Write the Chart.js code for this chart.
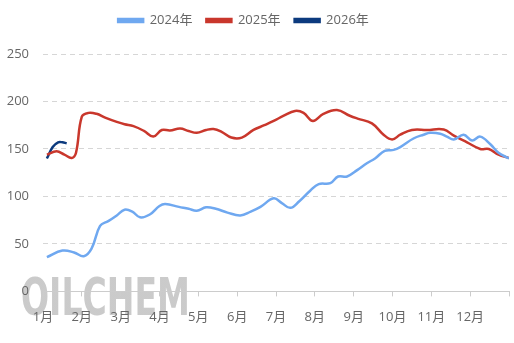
<!DOCTYPE html>
<html>
<head>
<meta charset="utf-8">
<script src="https://cdn.jsdelivr.net/npm/chart.js@4.4.1/dist/chart.umd.min.js"></script>
<style>
  html, body { margin: 0; padding: 0; background: #fff; }
  #wrap { width: 514px; height: 343px; }
</style>
</head>
<body>
<div id="wrap"><canvas id="myChart"></canvas></div>
<script>
// x values are month positions (0 = start of Jan, 12 = end of Dec)
const monthLabels = ['1月', '2月', '3月', '4月', '5月', '6月', '7月', '8月', '9月', '10月', '11月', '12月'];

const x2024 = [0.1, 0.5, 0.8, 1.05, 1.25, 1.47, 1.68, 1.9, 2.1, 2.3, 2.5, 2.75, 3.0, 3.15, 3.5, 3.75, 3.96, 4.2, 4.45, 4.75, 5.08, 5.35, 5.6, 5.94, 6.15, 6.37, 6.6, 6.88, 7.1, 7.4, 7.6, 7.83, 8.1, 8.34, 8.55, 8.8, 9.03, 9.2, 9.54, 9.8, 9.97, 10.23, 10.4, 10.58, 10.83, 11.05, 11.26, 11.52, 11.73, 12.0];
const y2024 = [36, 43, 41, 37, 45, 69, 74, 80, 86, 84, 78, 81, 90, 92, 89, 87, 85, 88.5, 87, 83, 80, 84, 89, 98, 93, 88, 95, 106, 113, 114, 121, 121, 128, 135, 140, 148, 149, 152, 161, 165, 167, 166, 163, 160, 165, 159, 163, 155, 146, 140];

const x2025 = [0.1, 0.35, 0.55, 0.74, 0.85, 1.0, 1.17, 1.38, 1.6, 1.9, 2.1, 2.33, 2.6, 2.84, 3.06, 3.27, 3.53, 3.75, 3.96, 4.2, 4.39, 4.6, 4.85, 5.12, 5.42, 5.7, 5.94, 6.2, 6.49, 6.71, 6.95, 7.22, 7.57, 7.9, 8.1, 8.47, 8.77, 8.99, 9.2, 9.5, 9.89, 10.32, 10.58, 10.92, 11.26, 11.48, 11.73, 12.0];
const y2025 = [144, 147.5, 144, 140.5, 146, 184, 188, 187, 183, 178.5, 176, 174, 169, 163, 170, 169.5, 171.5, 169, 167, 170, 171, 168, 162, 162, 170, 175, 179.5, 185, 190, 188, 179.5, 187, 191, 185, 182, 177, 165, 160, 165, 170, 170, 170.5, 164, 157, 150, 150, 144, 140.5];

const x2026 = [0.1, 0.25, 0.39, 0.5, 0.61];
const y2026 = [140, 152, 157, 157, 156];

function toPoints(xs, ys) {
    return xs.map((x, i) => ({ x: x, y: ys[i] }));
}

const watermark = {
    id: 'watermark',
    afterInit(chart) {
        // more room under the legend, and the legend sits a bit left of centre
        const legend = chart.legend;
        const fit = legend.fit;
        legend.fit = function () {
            fit.call(this);
            this.height += 17;
        };
        const draw = legend.draw;
        legend.draw = function () {
            this.ctx.save();
            this.ctx.translate(-11, 0);
            draw.call(this);
            this.ctx.restore();
        };
    },
    beforeDraw(chart) {
        const ctx = chart.ctx;
        ctx.save();
        const grad = ctx.createLinearGradient(0, 277, 0, 318);
        grad.addColorStop(0, 'rgba(185,185,185,0.75)');
        grad.addColorStop(1, 'rgba(255,255,255,0)');
        ctx.fillStyle = grad;
        ctx.font = 'bold 51px "DejaVu Sans", sans-serif';
        ctx.textBaseline = 'alphabetic';
        ctx.translate(21, 315);
        const w = ctx.measureText('OILCHEM').width;
        ctx.scale(169 / w, 1);
        ctx.fillText('OILCHEM', 0, 0);
        ctx.restore();
    }
};

const chart = document.getElementById('myChart').getContext('2d');

const myChart = new Chart(chart, {
    type: 'line',
    data: {
        datasets: [{
            label: '2024年',
            data: toPoints(x2024, y2024),
            borderColor: '#6fa8f0',
            backgroundColor: '#6fa8f0',
            borderWidth: 2.5,
            pointRadius: 0,
            tension: 0.4
        }, {
            label: '2025年',
            data: toPoints(x2025, y2025),
            borderColor: '#c9372c',
            backgroundColor: '#c9372c',
            borderWidth: 2.5,
            pointRadius: 0,
            tension: 0.4
        }, {
            label: '2026年',
            data: toPoints(x2026, y2026),
            borderColor: '#0c3a7e',
            backgroundColor: '#0c3a7e',
            borderWidth: 2.5,
            pointRadius: 0,
            tension: 0.4
        }]
    },
    options: {
        responsive: true,
        maintainAspectRatio: false,
        animation: false,
        layout: {
            padding: { left: 0, right: 5, top: 0, bottom: 5 }
        },
        plugins: {
            tooltip: { enabled: false },
            legend: {
                position: 'top',
                labels: {
                    boxWidth: 25,
                    boxHeight: 3,
                    padding: 14,
                    color: '#666',
                    font: { size: 13, family: '"Open Sans", "Noto Sans CJK SC", sans-serif' }
                }
            }
        },
        scales: {
            x: {
                type: 'linear',
                min: 0,
                max: 12,
                afterBuildTicks: function (scale) {
                    scale.ticks = [];
                    for (let i = 0; i <= 12; i++) scale.ticks.push({ value: i });
                },
                afterFit: function (scale) {
                    scale.paddingLeft = 0;
                    scale.paddingRight = 0;
                },
                ticks: {
                    autoSkip: false,
                    maxRotation: 0,
                    color: '#666',
                    padding: 13,
                    font: { size: 13, family: '"Open Sans", "Noto Sans CJK SC", sans-serif' },
                    callback: function (value) {
                        return monthLabels[value] || '';
                    }
                },
                grid: {
                    drawOnChartArea: false,
                    drawTicks: true,
                    tickLength: 5,
                    color: '#ccc'
                },
                border: { color: '#ccc' }
            },
            y: {
                min: 0,
                max: 250,
                afterFit: function (scale) {
                    scale.width = 43;
                },
                ticks: {
                    stepSize: 50,
                    color: '#666',
                    padding: 14,
                    font: { size: 13, family: '"Open Sans", "Noto Sans CJK SC", sans-serif' }
                },
                grid: {
                    color: '#d6d6d6',
                    drawTicks: false
                },
                border: { display: false, dash: [5, 4] }
            }
        }
    },
    plugins: [watermark]
});
</script>
</body>
</html>
